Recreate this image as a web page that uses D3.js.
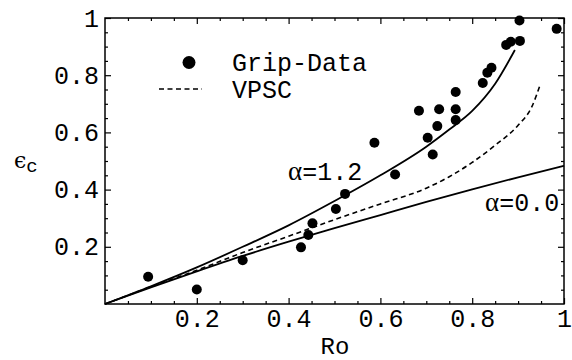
<!DOCTYPE html>
<html>
<head>
<meta charset="utf-8">
<script src="https://cdn.jsdelivr.net/npm/d3@7"></script>
<style>
  body { margin: 0; background: #fff; }
  svg { display: block; }
  text { font-family: "Liberation Mono", monospace; fill: #000; }
</style>
</head>
<body>
<script>
// Grip data (Ro, eps_c)
const gripRo  = [0.094, 0.20, 0.30, 0.427, 0.443, 0.452, 0.503, 0.523, 0.587, 0.632, 0.684, 0.703, 0.714, 0.724, 0.728, 0.764, 0.764, 0.764, 0.823, 0.833, 0.842, 0.874, 0.884, 0.904, 0.903, 0.984];
const gripEps = [0.095, 0.051, 0.153, 0.198, 0.241, 0.282, 0.332, 0.385, 0.564, 0.453, 0.676, 0.581, 0.523, 0.622, 0.681, 0.741, 0.681, 0.643, 0.773, 0.809, 0.826, 0.906, 0.917, 0.92, 0.991, 0.962];

// model curves
const a12Ro  = [0, 0.1, 0.2, 0.3, 0.4, 0.5, 0.6, 0.7, 0.75, 0.8, 0.85, 0.893];
const a12Eps = [0, 0.062, 0.128, 0.20, 0.275, 0.36, 0.45, 0.55, 0.61, 0.675, 0.77, 0.888];

const a00Ro  = [0, 0.1, 0.2, 0.3, 0.4, 0.5, 0.6, 0.7, 0.8, 0.9, 1.0];
const a00Eps = [0, 0.058, 0.114, 0.168, 0.218, 0.265, 0.311, 0.357, 0.401, 0.443, 0.483];

const vpscRo  = [0, 0.1, 0.2, 0.3, 0.4, 0.5, 0.6, 0.7, 0.75, 0.8, 0.85, 0.9, 0.93, 0.948];
const vpscEps = [0, 0.06, 0.118, 0.18, 0.237, 0.295, 0.35, 0.405, 0.445, 0.495, 0.555, 0.625, 0.69, 0.766];

const majorTicks = [0.2, 0.4, 0.6, 0.8, 1];

const w = 572, h = 360;
const mLeft = 105, mRight = 564, mTop = 18, mBottom = 304;

const svg = d3.select("body").append("svg")
  .attr("width", w)
  .attr("height", h);

const x = d3.scaleLinear().domain([0, 1]).range([mLeft, mRight]);
const y = d3.scaleLinear().domain([0, 1]).range([mBottom, mTop]);

const fmt = d => d === 1 ? "1" : d3.format(".1f")(d);
const minor = d3.range(0, 1.0001, 0.05).filter(v => Math.abs(v * 5 - Math.round(v * 5)) > 1e-6);

// frame
svg.append("rect")
  .attr("x", mLeft).attr("y", mTop)
  .attr("width", mRight - mLeft).attr("height", mBottom - mTop)
  .attr("fill", "none").attr("stroke", "#000").attr("stroke-width", 1.5);

function styleAxis(g) {
  g.select(".domain").remove();
  g.selectAll("line").attr("stroke", "#000").attr("stroke-width", 1.2);
  g.selectAll("text").attr("font-size", 25).attr("font-family", "Liberation Mono, monospace");
}

// major ticks with labels
svg.append("g").attr("transform", `translate(0,${mBottom})`)
  .call(d3.axisBottom(x).tickValues(majorTicks).tickSize(-6).tickPadding(5).tickFormat(fmt))
  .call(styleAxis);
svg.append("g").attr("transform", `translate(${mLeft},0)`)
  .call(d3.axisLeft(y).tickValues(majorTicks).tickSize(-6).tickPadding(6).tickFormat(fmt))
  .call(styleAxis);
svg.append("g").attr("transform", `translate(0,${mTop})`)
  .call(d3.axisTop(x).tickValues(majorTicks).tickSize(-6).tickFormat(""))
  .call(styleAxis);
svg.append("g").attr("transform", `translate(${mRight},0)`)
  .call(d3.axisRight(y).tickValues(majorTicks).tickSize(-6).tickFormat(""))
  .call(styleAxis);

// minor ticks
svg.append("g").attr("transform", `translate(0,${mBottom})`)
  .call(d3.axisBottom(x).tickValues(minor).tickSize(-3).tickFormat("")).call(styleAxis);
svg.append("g").attr("transform", `translate(${mLeft},0)`)
  .call(d3.axisLeft(y).tickValues(minor).tickSize(-3).tickFormat("")).call(styleAxis);
svg.append("g").attr("transform", `translate(0,${mTop})`)
  .call(d3.axisTop(x).tickValues(minor).tickSize(-3).tickFormat("")).call(styleAxis);
svg.append("g").attr("transform", `translate(${mRight},0)`)
  .call(d3.axisRight(y).tickValues(minor).tickSize(-3).tickFormat("")).call(styleAxis);

// curves
const line = d3.line()
  .x(d => x(d[0]))
  .y(d => y(d[1]))
  .curve(d3.curveMonotoneX);

svg.append("path")
  .datum(d3.zip(a12Ro, a12Eps))
  .attr("d", line)
  .attr("fill", "none").attr("stroke", "#000").attr("stroke-width", 1.8);

svg.append("path")
  .datum(d3.zip(a00Ro, a00Eps))
  .attr("d", line)
  .attr("fill", "none").attr("stroke", "#000").attr("stroke-width", 1.8);

svg.append("path")
  .datum(d3.zip(vpscRo, vpscEps))
  .attr("d", line)
  .attr("fill", "none").attr("stroke", "#000").attr("stroke-width", 1.6)
  .attr("stroke-dasharray", "5,3.5");

// grip data points
svg.selectAll("circle.pt")
  .data(d3.zip(gripRo, gripEps))
  .enter().append("circle")
  .attr("class", "pt")
  .attr("cx", d => x(d[0]))
  .attr("cy", d => y(d[1]))
  .attr("r", 5)
  .attr("fill", "#000");

// legend
svg.append("circle").attr("cx", 189).attr("cy", 62.5).attr("r", 6.5).attr("fill", "#000");
svg.append("text").attr("x", 232).attr("y", 63).attr("dy", "0.32em")
  .attr("font-size", 25).text("Grip-Data");
svg.append("line").attr("x1", 159).attr("x2", 202).attr("y1", 89).attr("y2", 89)
  .attr("stroke", "#000").attr("stroke-width", 1.6).attr("stroke-dasharray", "5,3.5");
svg.append("text").attr("x", 232).attr("y", 89.5).attr("dy", "0.32em")
  .attr("font-size", 25).text("VPSC");

// curve labels
function alphaLabel(px, py, val) {
  const t = svg.append("text").attr("x", px).attr("y", py).attr("dy", "0.32em").attr("font-size", 25);
  t.append("tspan").attr("font-family", "Liberation Serif, serif").attr("font-size", 27).text("α");
  t.append("tspan").text("=" + val);
}
alphaLabel(288, 171.5, "1.2");
alphaLabel(485, 202.5, "0.0");

// axis titles
svg.append("text").attr("x", 335).attr("y", 346).attr("dy", "0.32em")
  .attr("text-anchor", "middle").attr("font-size", 24).text("Ro");

const yl = svg.append("text").attr("x", 14).attr("y", 168);
yl.append("tspan").attr("font-family", "DejaVu Serif, serif").attr("font-size", 22).text("ϵ");
yl.append("tspan").attr("font-size", 19).attr("dy", 4).text("c");
</script>
</body>
</html>
